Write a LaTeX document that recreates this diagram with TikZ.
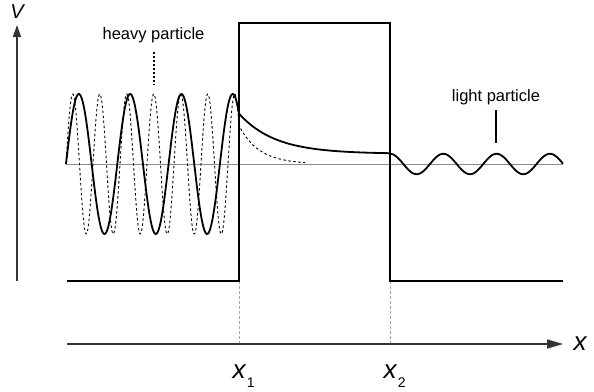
\documentclass[tikz,border=0pt]{standalone}
\usepackage{fontspec}
\setmainfont{Liberation Sans}
\usetikzlibrary{arrows.meta}
\begin{document}
\begin{tikzpicture}[x=1pt,y=-1pt,
  axis/.style={line width=1.5pt, draw=black!80},
  pot/.style={line width=1.8pt, line join=miter},
  wave/.style={line width=1.8pt},
  dwave/.style={line width=0.9pt, dash pattern=on 2.5pt off 2.5pt},
  guide/.style={line width=0.8pt, draw=black!35, dash pattern=on 3pt off 2pt},
  baseln/.style={line width=0.9pt, draw=black!45},
  lbl/.style={font=\fontsize{16.5}{20}\selectfont, inner sep=0pt},
  axlbl/.style={font=\fontsize{26}{30}\selectfont\itshape, inner sep=0pt},
  sublbl/.style={font=\fontsize{14}{16}\selectfont, inner sep=0pt, anchor=base west}]
\useasboundingbox (0,0) rectangle (594,391);
% coordinates
\coordinate (vbot) at (17,281);
\coordinate (vtop) at (17,25);
\coordinate (xl) at (67,344);
\coordinate (xr) at (563,344);
\coordinate (p0) at (67,281);
\coordinate (p1) at (239,281);
\coordinate (p2) at (239,23);
\coordinate (p3) at (390,23);
\coordinate (p4) at (390,281);
\coordinate (p5) at (563,281);
\coordinate (g1) at (239,344);
\coordinate (g2) at (390,344);
\coordinate (b0) at (66,164);
\coordinate (b1) at (563,164);
\coordinate (hv1) at (154,52);
\coordinate (hv2) at (154,85);
\coordinate (lt1) at (496,110);
\coordinate (lt2) at (496,143);
% baseline and guides
\draw[baseln] (b0) -- (b1);
\draw[guide] (p1) -- (g1);
\draw[guide] (p4) -- (g2);
% axes
\draw[axis, -{Triangle[length=12pt,width=8pt]}] (vbot) -- (vtop);
\draw[axis, -{Triangle[length=16pt,width=9pt]}] (xl) -- (xr);
% potential
\draw[pot] (p0) -- (p1) -- (p2) -- (p3) -- (p4) -- (p5);
% heavy particle dashed wave
\draw[dwave] plot[domain=66:239, samples=400, smooth] (\x, {164-70*sin(13.3333*(\x-66))})
  -- plot[domain=239:305, samples=60, smooth] (\x, {164-38.4*exp(-(\x-239)/20)});
% solid wave
\draw[wave, line join=round] plot[domain=66:239, samples=300, smooth] (\x, {164-70*sin(7.0175*(\x-66))})
  -- plot[domain=239:390, samples=80, smooth] (\x, {164-(10.2+40.2*exp(-(\x-239)/36))})
  -- plot[domain=390:563, samples=150, smooth] (\x, {164-10.2*cos(6.7542*(\x-390))});
% labels
\node[lbl, anchor=base] (heavy) at (153.5,39.3) {heavy particle};
\draw[line width=1.8pt, dash pattern=on 2pt off 2pt] (hv1) -- (hv2);
\node[lbl, anchor=base] (light) at (496,101.7) {light particle};
\draw[line width=1.5pt] (lt1) -- (lt2);
\node[font=\fontsize{20}{24}\selectfont\itshape, inner sep=0pt, anchor=base] (vlab) at (17,18) {V};
\node[axlbl, anchor=base] (xlab) at (580,350) {x};
\node[axlbl, anchor=base] (x1) at (239,378) {x};
\node[sublbl] (x1s) at ([xshift=1pt,yshift=-9pt]x1.base east) {1};
\node[axlbl, anchor=base] (x2) at (390,378) {x};
\node[sublbl] (x2s) at ([xshift=1pt,yshift=-9pt]x2.base east) {2};
\end{tikzpicture}
\end{document}
